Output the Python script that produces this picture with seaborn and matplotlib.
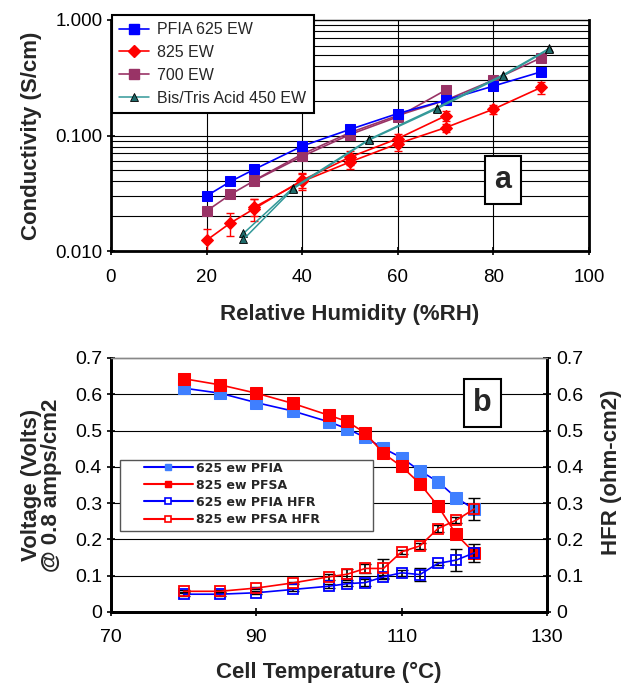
import numpy as np
import pandas as pd
import matplotlib
matplotlib.use("Agg")
import matplotlib.pyplot as plt
import seaborn as sns
from matplotlib.ticker import FixedLocator, NullFormatter, FixedFormatter
from matplotlib.lines import Line2D
from matplotlib.patches import Rectangle

# ---- data panel a: conductivity vs RH ----
pfia_rh = [20, 25, 30, 40, 50, 60, 70, 80, 90]
pfia_s = [0.030, 0.040, 0.051, 0.081, 0.113, 0.155, 0.202, 0.268, 0.356]

ew825_rh_1 = [20, 25, 30, 40, 50, 60, 70]
ew825_s_1 = [0.0124, 0.0175, 0.0233, 0.041, 0.065, 0.094, 0.148]
ew825_err_1 = [0.003, 0.004, 0.005, 0.006, 0.009, 0.010, 0.015]
ew825_rh_2 = [30, 40, 50, 60, 70, 80, 90]
ew825_s_2 = [0.024, 0.040, 0.059, 0.085, 0.117, 0.169, 0.261]
ew825_err_2 = [0.004, 0.006, 0.008, 0.011, 0.010, 0.016, 0.030]

ew700_rh_1 = [20, 25, 30, 40, 50, 60, 70]
ew700_s_1 = [0.0222, 0.0309, 0.0407, 0.066, 0.102, 0.145, 0.247]
ew700_rh_2 = [30, 40, 50, 60, 70, 80, 90]
ew700_s_2 = [0.041, 0.069, 0.106, 0.149, 0.202, 0.302, 0.471]

bis_rh = [27.7, 38.1, 54.0, 68.1, 82.1, 91.7]
bis_s_1 = [0.0142, 0.0353, 0.0927, 0.174, 0.336, 0.568]
bis_s_2 = [0.0126, 0.0345, 0.0915, 0.170, 0.330, 0.560]

# ---- data panel b: voltage and HFR vs temperature ----
temp = [80, 85, 90, 95, 100, 102.5, 105, 107.5, 110, 112.5, 115, 117.5, 120]
pfia_v = [0.617, 0.603, 0.577, 0.554, 0.524, 0.505, 0.481, 0.451, 0.425, 0.389, 0.359, 0.315, 0.283]
pfsa_v = [0.643, 0.626, 0.603, 0.575, 0.542, 0.525, 0.493, 0.437, 0.401, 0.354, 0.292, 0.214, 0.163]
pfia_hfr = [0.049, 0.049, 0.053, 0.062, 0.071, 0.078, 0.081, 0.097, 0.108, 0.103, 0.134, 0.143, 0.163]
pfia_hfr_err = [0.004, 0.004, 0.004, 0.004, 0.006, 0.006, 0.010, 0.006, 0.008, 0.017, 0.005, 0.030, 0.025]
pfsa_hfr = [0.057, 0.057, 0.066, 0.080, 0.097, 0.104, 0.120, 0.120, 0.166, 0.182, 0.230, 0.253, 0.284]
pfsa_hfr_err = [0.003, 0.003, 0.004, 0.004, 0.008, 0.015, 0.012, 0.026, 0.006, 0.008, 0.010, 0.008, 0.030]

sns.set_style("white")
plt.rcParams['font.family'] = ['Liberation Sans', 'DejaVu Sans']

fig = plt.figure(figsize=(6.26, 6.87), dpi=100)
ax = fig.add_axes([0.1773, 0.6346, 0.7636, 0.3363])

BLUE = "#0000ff"
RED = "#ff0000"
PURPLE = "#993366"
TEAL = "#339999"
TEAL_M = "#1f6b6b"
LBL = dict(fontsize=16, fontweight="bold")

# panel a lines
sns.lineplot(x=ew700_rh_1, y=ew700_s_1, ax=ax, color=PURPLE, marker="s", markersize=6.5,
             markeredgecolor=PURPLE, lw=1.2, sort=False)
sns.lineplot(x=ew700_rh_2, y=ew700_s_2, ax=ax, color=PURPLE, marker="s", markersize=6.5,
             markeredgecolor=PURPLE, lw=1.2, sort=False)
sns.lineplot(x=pfia_rh, y=pfia_s, ax=ax, color=BLUE, marker="s", markersize=7.5,
             markeredgecolor=BLUE, lw=1.2, sort=False)
ax.errorbar(ew825_rh_1, ew825_s_1, yerr=ew825_err_1, fmt="none", ecolor=RED, elinewidth=1, capsize=3)
ax.errorbar(ew825_rh_2, ew825_s_2, yerr=ew825_err_2, fmt="none", ecolor=RED, elinewidth=1, capsize=3)
sns.lineplot(x=ew825_rh_1, y=ew825_s_1, ax=ax, color=RED, marker="D", markersize=6,
             markeredgecolor=RED, lw=1.2, sort=False)
sns.lineplot(x=ew825_rh_2, y=ew825_s_2, ax=ax, color=RED, marker="D", markersize=6,
             markeredgecolor=RED, lw=1.2, sort=False)
sns.lineplot(x=bis_rh, y=bis_s_1, ax=ax, color=TEAL, marker="^", markersize=5.5,
             markerfacecolor=TEAL_M, markeredgecolor="black", markeredgewidth=0.6, lw=1.1, sort=False)
sns.lineplot(x=bis_rh, y=bis_s_2, ax=ax, color=TEAL, marker="^", markersize=5.5,
             markerfacecolor=TEAL_M, markeredgecolor="black", markeredgewidth=0.6, lw=1.1, sort=False)

ax.set_yscale("log")
ax.set_ylim(0.01, 1.0)
ax.set_xlim(0, 100)
ax.yaxis.set_major_locator(FixedLocator([0.01, 0.1, 1.0]))
ax.yaxis.set_major_formatter(FixedFormatter(["0.010", "0.100", "1.000"]))
minor = [m * d for d in (0.01, 0.1) for m in range(2, 10)]
ax.yaxis.set_minor_locator(FixedLocator(minor))
ax.yaxis.set_minor_formatter(NullFormatter())
ax.set_xticks([0, 20, 40, 60, 80, 100])
for v in minor + [0.1]:
    ax.axhline(v, color="black", lw=0.8, zorder=0)
for v in [20, 40, 60, 80]:
    ax.axvline(v, color="black", lw=0.8, zorder=0)
ax.tick_params(axis="both", which="major", direction="inout", length=6, width=1.2,
               labelsize=13.5, left=True, bottom=True, colors="black")
ax.tick_params(axis="y", which="minor", length=0)
ax.tick_params(axis="x", pad=10)
ax.tick_params(axis="y", pad=3)
for s in ["left", "bottom", "right"]:
    ax.spines[s].set_linewidth(2)
    ax.spines[s].set_color("black")
ax.spines["top"].set_linewidth(1)
ax.spines["top"].set_color("black")
ax.set_ylabel("Conductivity (S/cm)", labelpad=10, **LBL)
ax.set_xlabel("Relative Humidity (%RH)", labelpad=13, **LBL)

handles_a = [
    Line2D([], [], color=BLUE, marker="s", markersize=7.5, lw=1.2),
    Line2D([], [], color=RED, marker="D", markersize=6, lw=1.2),
    Line2D([], [], color=PURPLE, marker="s", markersize=6.5, lw=1.2),
    Line2D([], [], color=TEAL, marker="^", markersize=5.5, markerfacecolor=TEAL_M,
           markeredgecolor="black", markeredgewidth=0.6, lw=1.1),
]
labels_a = ["PFIA 625 EW", "825 EW", "700 EW", "Bis/Tris Acid 450 EW"]
leg = ax.legend(handles_a, labels_a, loc="upper left", bbox_to_anchor=(0.002, 1.022),
                fontsize=11.5, frameon=True, fancybox=False, framealpha=1,
                edgecolor="black", handlelength=1.9, handletextpad=0.5,
                labelspacing=0.5, borderpad=0.45, borderaxespad=0)
leg.get_frame().set_linewidth(1.5)
ax.text(0.82, 0.307, "a", transform=ax.transAxes, fontsize=22, fontweight="bold",
        ha="center", va="center",
        bbox=dict(boxstyle="square,pad=0.3", fc="white", ec="black", lw=1.5))

# ---- panel b ----
bx = fig.add_axes([0.1773, 0.1092, 0.6965, 0.3697])
bx2 = bx.twinx()
LBLUE = "#3f7fff"

sns.lineplot(x=temp, y=pfia_v, ax=bx, color=BLUE, marker="s", markersize=8,
             markerfacecolor=LBLUE, markeredgecolor=LBLUE, lw=1.2, sort=False)
sns.lineplot(x=temp, y=pfsa_v, ax=bx, color=RED, marker="s", markersize=8,
             markerfacecolor=RED, markeredgecolor=RED, lw=1.2, sort=False)
bx2.errorbar(temp, pfia_hfr, yerr=pfia_hfr_err, fmt="none", ecolor="black", elinewidth=1.2, capsize=4)
bx2.errorbar(temp, pfsa_hfr, yerr=pfsa_hfr_err, fmt="none", ecolor="black", elinewidth=1.2, capsize=4)
sns.lineplot(x=temp, y=pfia_hfr, ax=bx2, color=BLUE, marker="s", markersize=7.5,
             markerfacecolor="none", markeredgecolor=BLUE, markeredgewidth=1.3, lw=1.2, sort=False)
sns.lineplot(x=temp, y=pfsa_hfr, ax=bx2, color=RED, marker="s", markersize=7.5,
             markerfacecolor="none", markeredgecolor=RED, markeredgewidth=1.3, lw=1.2, sort=False)

for a_ in (bx, bx2):
    a_.set_xlim(70, 130)
    a_.set_ylim(0, 0.7)
    a_.set_yticks([0, 0.1, 0.2, 0.3, 0.4, 0.5, 0.6, 0.7])
    a_.set_yticklabels(["0", "0.1", "0.2", "0.3", "0.4", "0.5", "0.6", "0.7"])
bx.set_xticks([70, 90, 110, 130])
for v in [0.1, 0.2, 0.3, 0.4, 0.5, 0.6]:
    bx.axhline(v, color="black", lw=0.8, zorder=0)
bx.tick_params(axis="both", direction="inout", length=6, width=1.2, labelsize=14,
               left=True, bottom=True, colors="black")
bx.tick_params(axis="x", pad=9)
bx2.tick_params(axis="y", direction="inout", length=6, width=1.2, labelsize=14,
                right=True, colors="black")
for a_ in (bx, bx2):
    for s in ["left", "bottom", "right"]:
        a_.spines[s].set_linewidth(2)
        a_.spines[s].set_color("black")
    a_.spines["top"].set_linewidth(1)
    a_.spines["top"].set_color("#888888")
bx.set_ylabel("Voltage (Volts)\n@ 0.8 amps/cm2", labelpad=9, linespacing=0.95, **LBL)
bx2.set_ylabel("HFR (ohm-cm2)", **LBL)
bx2.yaxis.set_label_coords(1.123, 0.55)
bx.set_xlabel("Cell Temperature (\u00b0C)", labelpad=12, **LBL)

# legend frame drawn as a plain box, as in the source figure
bx2.add_patch(Rectangle((0.0206, 0.319), 0.5803, 0.279, transform=bx2.transAxes,
                        fc="white", ec="#555555", lw=1, zorder=4))
handles_b = [
    Line2D([], [], color=BLUE, marker="s", markersize=5, markerfacecolor=LBLUE, markeredgecolor=LBLUE, lw=1.5),
    Line2D([], [], color=RED, marker="s", markersize=5, markerfacecolor=RED, markeredgecolor=RED, lw=1.5),
    Line2D([], [], color=BLUE, marker="s", markersize=4.5, markerfacecolor="white", markeredgecolor=BLUE,
           markeredgewidth=1.2, lw=1.5),
    Line2D([], [], color=RED, marker="s", markersize=4.5, markerfacecolor="white", markeredgecolor=RED,
           markeredgewidth=1.2, lw=1.5),
]
labels_b = ["625 ew PFIA", "825 ew PFSA", "625 ew PFIA HFR", "825 ew PFSA HFR"]
legb = bx2.legend(handles_b, labels_b, loc="upper left", bbox_to_anchor=(0.0757, 0.592),
                  prop={"family": "DejaVu Sans", "weight": "bold", "size": 9},
                  frameon=False, handlelength=3.9, labelspacing=0.33, borderpad=0,
                  handletextpad=0.3, borderaxespad=0)
legb.set_zorder(5)
bx2.text(0.851, 0.823, "b", transform=bx2.transAxes, fontsize=22, fontweight="bold",
         ha="center", va="center",
         bbox=dict(boxstyle="square,pad=0.3", fc="white", ec="black", lw=1.5))

fig.savefig("out.png", dpi=100)
